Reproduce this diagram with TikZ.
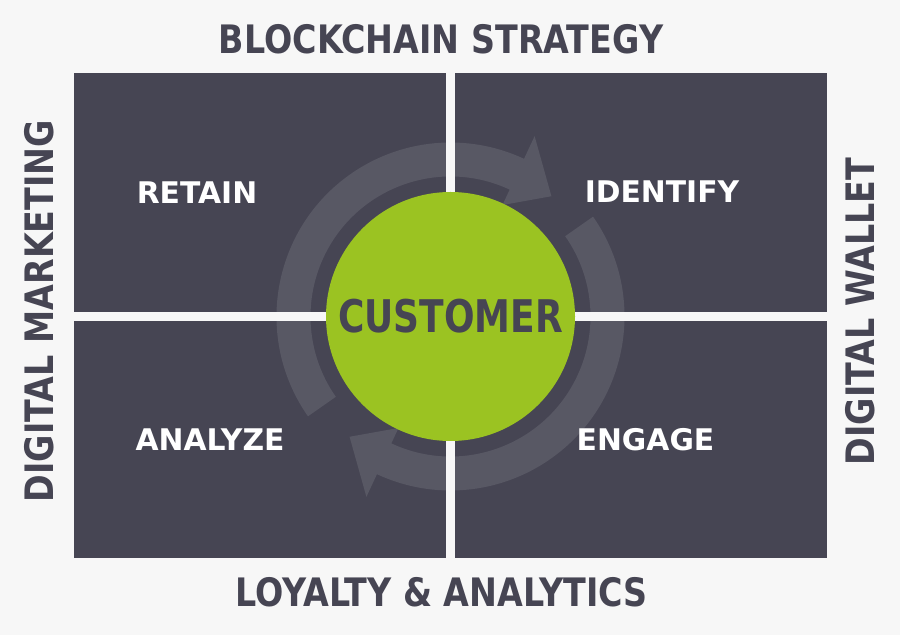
\documentclass[tikz,border=0pt]{standalone}
\usepackage{fontspec}
\setmainfont{DejaVu Sans}
\newfontfamily\headfont{DejaVu Sans}[FakeStretch=0.85]
\newfontfamily\hubfont{DejaVu Sans}[FakeStretch=0.8]
\usetikzlibrary{calc}
\definecolor{slate}{HTML}{464553}
\definecolor{ringgray}{HTML}{585864}
\definecolor{leaf}{HTML}{9BC322}
\definecolor{paper}{HTML}{F7F7F7}
\tikzset{
	quadrant/.style={fill=slate},
	gap/.style={draw=paper,line width=9pt},
	turn/.style={fill=ringgray},
	heading/.style={text=slate,inner sep=0pt,font=\headfont\bfseries\fontsize{39.2}{41}\selectfont},
	phase/.style={text=white,inner sep=0pt,font=\bfseries\fontsize{29.8}{31}\selectfont},
}

\begin{document}
\begin{tikzpicture}[x=1pt,y=1pt]
		\fill[paper] (0,0) rectangle (900,635);
		\coordinate (C) at (450.5,318.5);
		\fill[quadrant] (74,562) rectangle (446,323);
		\fill[quadrant] (455,562) rectangle (827,323);
		\fill[quadrant] (74,314) rectangle (446,77);
		\fill[quadrant] (455,314) rectangle (827,77);
		\fill[turn] ($ (C) + (215:174) $) arc[start angle=215,end angle=65,radius=174] -- ($ (C) + (65:199) $) -- ($ (C) + (50:157) $) -- ($ (C) + (65:123) $) -- ($ (C) + (65:140) $) arc[start angle=65,end angle=215,radius=140] -- cycle;
		\fill[turn] ($ (C) + (35:174) $) arc[start angle=35,end angle=-115,radius=174] -- ($ (C) + (-115:199) $) -- ($ (C) + (-130:157) $) -- ($ (C) + (-115:123) $) -- ($ (C) + (-115:140) $) arc[start angle=-115,end angle=35,radius=140] -- cycle;
		\draw[gap] (450.5,562) -- (450.5,77);
		\draw[gap] (74,318.5) -- (827,318.5);
		\fill[leaf] (C) circle (124.5);
		\node[heading] (strategy) at (441,596) {BLOCKCHAIN STRATEGY};
		\node[heading] (loyalty) at (441.5,42.5) {LOYALTY \& ANALYTICS};
		\node[heading,rotate=90] (marketing) at (39,324) {DIGITAL MARKETING};
		\node[heading,rotate=90] (wallet) at (860,323.5) {DIGITAL WALLET};
		\node[phase] (retain) at (197,442.5) {RETAIN};
		\node[phase] (identify) at (662,443) {IDENTIFY};
		\node[phase] (analyze) at (210,195.5) {ANALYZE};
		\node[phase] (engage) at (645.5,195.5) {ENGAGE};
		\node[text=slate,inner sep=0pt,font=\hubfont\bfseries\fontsize{45}{46}\selectfont] (customer) at (C) {CUSTOMER};
	\end{tikzpicture}
\end{document}
